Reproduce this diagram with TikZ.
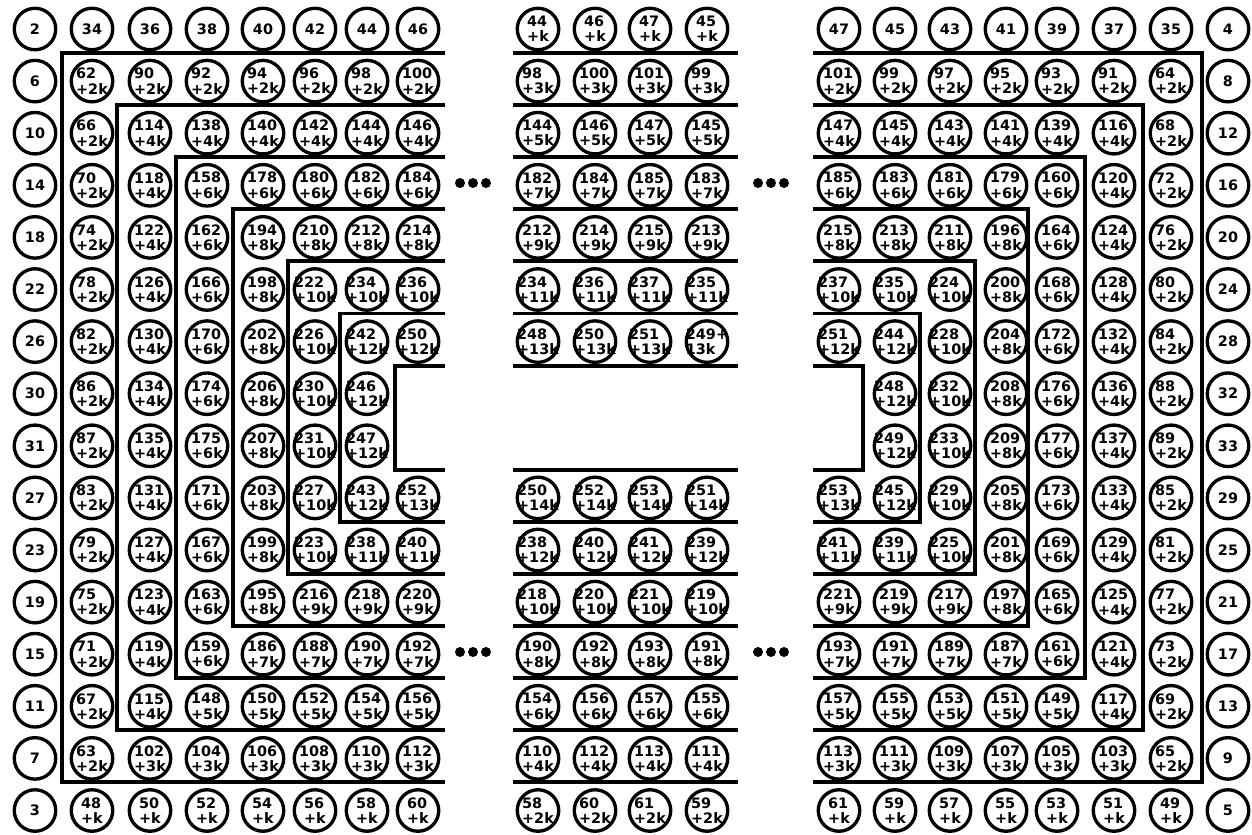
\documentclass[tikz,border=0pt]{standalone}
\usepackage{fontspec}
\setmainfont{DejaVu Sans}
\usetikzlibrary{positioning}

\begin{document}
\begin{tikzpicture}[
  x=0.02cm, y=-0.02cm,
  font=\fontsize{8.2}{8.6}\selectfont\bfseries,
  cell/.style={draw, circle, line width=1.9pt, minimum size=0.83cm, inner sep=-4pt, align=left},
  ring/.style={line width=2.2pt}
]
  \useasboundingbox (0,0) rectangle (1252,835);
  \def\lxs{{35,92,150,207,263,315,367,418}}
  \def\mxs{{538,595,650,707}}
  \def\rxs{{839,895,950,1006,1057,1114,1171,1228}}

  % left block
  \foreach \r/\s/\row in {
    0/0/{2,34,36,38,40,42,44,46},
    1/0/{6,62\\+2k,90\\+2k,92\\+2k,94\\+2k,96\\+2k,98\\+2k,100\\+2k},
    2/0/{10,66\\+2k,114\\+4k,138\\+4k,140\\+4k,142\\+4k,144\\+4k,146\\+4k},
    3/0/{14,70\\+2k,118\\+4k,158\\+6k,178\\+6k,180\\+6k,182\\+6k,184\\+6k},
    4/0/{18,74\\+2k,122\\+4k,162\\+6k,194\\+8k,210\\+8k,212\\+8k,214\\+8k},
    5/0/{22,78\\+2k,126\\+4k,166\\+6k,198\\+8k,222\\+10k,234\\+10k,236\\+10k},
    6/0/{26,82\\+2k,130\\+4k,170\\+6k,202\\+8k,226\\+10k,242\\+12k,250\\+12k},
    7/0/{30,86\\+2k,134\\+4k,174\\+6k,206\\+8k,230\\+10k,246\\+12k},
    8/0/{31,87\\+2k,135\\+4k,175\\+6k,207\\+8k,231\\+10k,247\\+12k},
    9/0/{27,83\\+2k,131\\+4k,171\\+6k,203\\+8k,227\\+10k,243\\+12k,252\\+13k},
    10/0/{23,79\\+2k,127\\+4k,167\\+6k,199\\+8k,223\\+10k,238\\+11k,240\\+11k},
    11/0/{19,75\\+2k,123\\+4k,163\\+6k,195\\+8k,216\\+9k,218\\+9k,220\\+9k},
    12/0/{15,71\\+2k,119\\+4k,159\\+6k,186\\+7k,188\\+7k,190\\+7k,192\\+7k},
    13/0/{11,67\\+2k,115\\+4k,148\\+5k,150\\+5k,152\\+5k,154\\+5k,156\\+5k},
    14/0/{7,63\\+2k,102\\+3k,104\\+3k,106\\+3k,108\\+3k,110\\+3k,112\\+3k},
    15/0/{3,48\\+k,50\\+k,52\\+k,54\\+k,56\\+k,58\\+k,60\\+k}} {
    \foreach \lab [count=\k from 0] in \row {
      \pgfmathtruncatemacro\c{\k+\s}
      \pgfmathsetmacro\xx{\lxs[\c]}
      \node[cell] (L\r-\c) at (\xx,29+52.1*\r) {\lab};
    }
  }

  % middle block
  \foreach \r/\s/\row in {
    0/0/{44\\+k,46\\+k,47\\+k,45\\+k},
    1/0/{98\\+3k,100\\+3k,101\\+3k,99\\+3k},
    2/0/{144\\+5k,146\\+5k,147\\+5k,145\\+5k},
    3/0/{182\\+7k,184\\+7k,185\\+7k,183\\+7k},
    4/0/{212\\+9k,214\\+9k,215\\+9k,213\\+9k},
    5/0/{234\\+11k,236\\+11k,237\\+11k,235\\+11k},
    6/0/{248\\+13k,250\\+13k,251\\+13k,249+\\13k},
    9/0/{250\\+14k,252\\+14k,253\\+14k,251\\+14k},
    10/0/{238\\+12k,240\\+12k,241\\+12k,239\\+12k},
    11/0/{218\\+10k,220\\+10k,221\\+10k,219\\+10k},
    12/0/{190\\+8k,192\\+8k,193\\+8k,191\\+8k},
    13/0/{154\\+6k,156\\+6k,157\\+6k,155\\+6k},
    14/0/{110\\+4k,112\\+4k,113\\+4k,111\\+4k},
    15/0/{58\\+2k,60\\+2k,61\\+2k,59\\+2k}} {
    \foreach \lab [count=\k from 0] in \row {
      \pgfmathtruncatemacro\c{\k+\s}
      \pgfmathsetmacro\xx{\mxs[\c]}
      \node[cell] (M\r-\c) at (\xx,29+52.1*\r) {\lab};
    }
  }

  % right block
  \foreach \r/\s/\row in {
    0/0/{47,45,43,41,39,37,35,4},
    1/0/{101\\+2k,99\\+2k,97\\+2k,95\\+2k,93\\+2k,91\\+2k,64\\+2k,8},
    2/0/{147\\+4k,145\\+4k,143\\+4k,141\\+4k,139\\+4k,116\\+4k,68\\+2k,12},
    3/0/{185\\+6k,183\\+6k,181\\+6k,179\\+6k,160\\+6k,120\\+4k,72\\+2k,16},
    4/0/{215\\+8k,213\\+8k,211\\+8k,196\\+8k,164\\+6k,124\\+4k,76\\+2k,20},
    5/0/{237\\+10k,235\\+10k,224\\+10k,200\\+8k,168\\+6k,128\\+4k,80\\+2k,24},
    6/0/{251\\+12k,244\\+12k,228\\+10k,204\\+8k,172\\+6k,132\\+4k,84\\+2k,28},
    7/1/{248\\+12k,232\\+10k,208\\+8k,176\\+6k,136\\+4k,88\\+2k,32},
    8/1/{249\\+12k,233\\+10k,209\\+8k,177\\+6k,137\\+4k,89\\+2k,33},
    9/0/{253\\+13k,245\\+12k,229\\+10k,205\\+8k,173\\+6k,133\\+4k,85\\+2k,29},
    10/0/{241\\+11k,239\\+11k,225\\+10k,201\\+8k,169\\+6k,129\\+4k,81\\+2k,25},
    11/0/{221\\+9k,219\\+9k,217\\+9k,197\\+8k,165\\+6k,125\\+4k,77\\+2k,21},
    12/0/{193\\+7k,191\\+7k,189\\+7k,187\\+7k,161\\+6k,121\\+4k,73\\+2k,17},
    13/0/{157\\+5k,155\\+5k,153\\+5k,151\\+5k,149\\+5k,117\\+4k,69\\+2k,13},
    14/0/{113\\+3k,111\\+3k,109\\+3k,107\\+3k,105\\+3k,103\\+3k,65\\+2k,9},
    15/0/{61\\+k,59\\+k,57\\+k,55\\+k,53\\+k,51\\+k,49\\+k,5}} {
    \foreach \lab [count=\k from 0] in \row {
      \pgfmathtruncatemacro\c{\k+\s}
      \pgfmathsetmacro\xx{\rxs[\c]}
      \node[cell] (R\r-\c) at (\xx,29+52.1*\r) {\lab};
    }
  }

  % rings
  \foreach \n/\xl/\xr in {1/62/1202,2/117/1143,3/176/1085,4/233/1028,5/288/975,6/340/920,7/395/863} {
    \draw[ring] (445,53+52.1*\n-52.1) -- (\xl,53+52.1*\n-52.1) -- (\xl,53+52.1*15-52.1*\n) -- (445,53+52.1*15-52.1*\n);
    \draw[ring] (813,53+52.1*\n-52.1) -- (\xr,53+52.1*\n-52.1) -- (\xr,53+52.1*15-52.1*\n) -- (813,53+52.1*15-52.1*\n);
  }
  \foreach \n in {0,...,6,8,9,...,14}
    \draw[ring] (513,53+52.1*\n) -- (738,53+52.1*\n);

  % dots
  \foreach \x in {460,473,486,758,771,784}
    \foreach \y in {183,652}
      \fill (\x,\y) circle (0.1cm);
\end{tikzpicture}
\end{document}
